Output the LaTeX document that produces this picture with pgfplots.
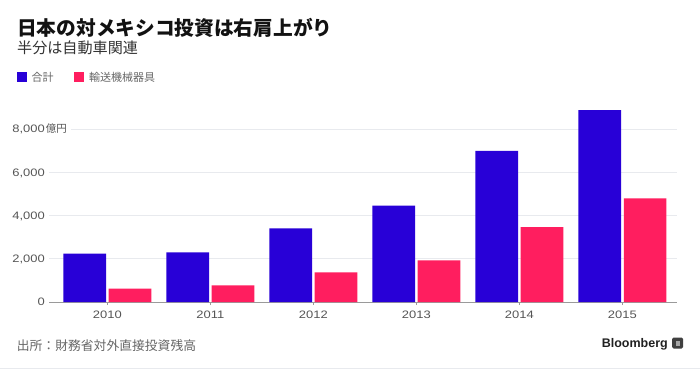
\documentclass[border=0pt]{standalone}
\usepackage{fontspec}
\usepackage{pgfplots}
\pgfplotsset{compat=1.18}
\setmainfont{Liberation Sans}
\newfontfamily\cjk{Noto Sans CJK JP}
\newfontfamily\numfont[FakeStretch=1.2]{Liberation Sans}
\definecolor{barblue}{HTML}{2800D7}
\definecolor{barpink}{HTML}{FF1E5F}
\definecolor{gridgray}{HTML}{E8EAEE}
\definecolor{axisgray}{HTML}{9A9A9A}
\definecolor{labelgray}{HTML}{555555}
\definecolor{textgray}{HTML}{666666}
\begin{document}
\begin{tikzpicture}[x=1bp,y=1bp]
\fill[white] (0,0) rectangle (700,370);
\path[use as bounding box] (0,0) rectangle (700,370);
\begin{axis}[
  at={(49bp,68bp)}, anchor=south west,
  scale only axis, width=628bp, height=194.6bp,
  xmin=-0.566, xmax=5.53, ymin=0, ymax=9000,
  axis lines*=left,
  y axis line style={draw=none},
  x axis line style={draw=axisgray, line width=1bp},
  xtick={0,1,2,3,4,5},
  xticklabels={2010,2011,2012,2013,2014,2015},
  xtick align=outside,
  ytick align=inside,
  major tick length=3bp,
  xtick style={draw=axisgray, line width=0.8bp},
  ytick style={draw=none},
  ytick={0,2000,4000,6000,8000},
  yticklabels={0,{2,000},{4,000},{6,000},{8,000}},
  ymajorgrids,
  grid style={draw=gridgray, line width=0.8bp},
  tick label style={font=\numfont\fontsize{10.8bp}{13bp}\selectfont, text=labelgray},
  yticklabel style={anchor=base east, inner sep=0pt, xshift=-4bp, yshift=-3.9bp},
  xticklabel style={anchor=north, inner sep=0pt, yshift=-5.5bp},
]
\addplot[ybar, bar width=42.7bp, bar shift=-22.6bp, fill=barblue, draw=none]
  coordinates {(0,2240) (1,2290) (2,3410) (3,4460) (4,6990) (5,8870)};
\addplot[ybar, bar width=42.7bp, bar shift=22.7bp, fill=barpink, draw=none]
  coordinates {(0,620) (1,770) (2,1375) (3,1920) (4,3460) (5,4790)};
\end{axis}
% unit after top tick label
\fill[white] (45.5,236) rectangle (71,246);
\node[anchor=west, inner sep=0pt, text=labelgray] at (45.8,241)
  {\cjk\fontsize{10.5bp}{12bp}\selectfont 億円};
% title and subtitle
\node[anchor=west, inner sep=0pt, text=black!93] at (17,342)
  {\cjk\bfseries\fontsize{19.7bp}{22bp}\selectfont 日本の対メキシコ投資は右肩上がり};
\node[anchor=west, inner sep=0pt, text=black!80] at (17,322.5)
  {\cjk\fontsize{15.1bp}{18bp}\selectfont 半分は自動車関連};
% legend
\fill[barblue] (16.7,288.3) rectangle (26.7,298.3);
\node[anchor=west, inner sep=0pt, text=textgray] at (31.5,293)
  {\cjk\fontsize{11bp}{13bp}\selectfont 合計};
\fill[barpink] (74.3,288.3) rectangle (84.3,298.3);
\node[anchor=west, inner sep=0pt, text=textgray] at (89,293)
  {\cjk\fontsize{11bp}{13bp}\selectfont 輸送機械器具};
% footer
\node[anchor=west, inner sep=0pt, text=textgray] at (16.7,24)
  {\cjk\fontsize{12.8bp}{15bp}\selectfont 出所：財務省対外直接投資残高};
\node[anchor=base east, inner sep=0pt, text=black!87] at (668,23)
  {\bfseries\fontsize{12.5bp}{15bp}\selectfont Bloomberg};
\fill[black!75, rounded corners=1.5bp] (672,21.5) rectangle (683,32.5);
\fill[black!35] (675.5,24.5) rectangle (679.5,29);
\draw[gridgray, line width=0.8bp] (0,1.5) -- (700,1.5);
\end{tikzpicture}
\end{document}
